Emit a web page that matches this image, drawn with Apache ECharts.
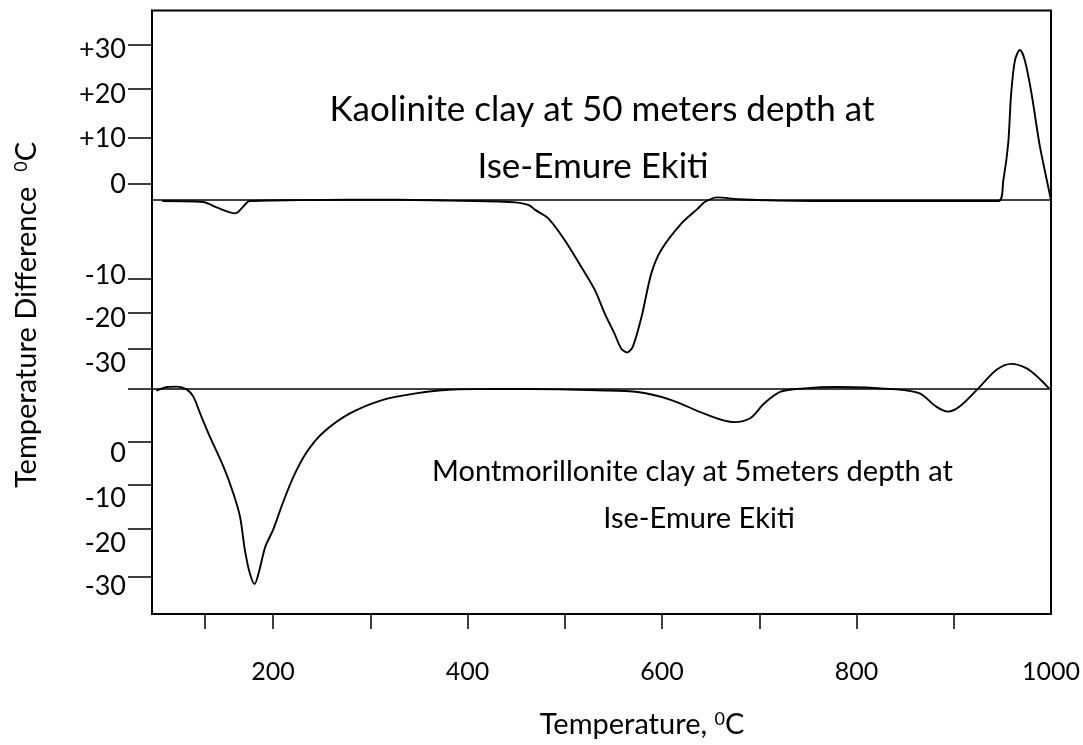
<!DOCTYPE html>
<html>
<head>
<meta charset="utf-8">
<script src="https://cdn.jsdelivr.net/npm/echarts@6/dist/echarts.min.js"></script>
<style>
  html, body { margin: 0; padding: 0; background: #fff; }
  #main { width: 1083px; height: 745px; }
</style>
</head>
<body>
<div id="main"></div>
<script>
// Kaolinite (50 m) trace: temperature (°C) and deflection from its own baseline
const kaolTemp = [86, 128, 142, 161, 169, 176, 227, 330, 381, 432, 449, 463, 470, 483, 500, 517, 531, 541, 551, 558, 564, 570, 579, 589, 599, 620, 637, 644, 657, 678, 719, 790, 893, 946, 951, 956, 959, 963, 968, 973, 980, 988, 995, 1000];
const kaolDiff = [-0.2, -0.4, -1.6, -2.9, -1.5, -0.2, 0, 0.1, -0.1, -0.3, -0.5, -1.1, -2.2, -4.0, -8.8, -14.7, -19.8, -24.9, -29.3, -32.6, -33.5, -32.2, -25.6, -16.1, -11.0, -5.1, -1.8, -0.4, 0.6, 0.2, -0.1, -0.2, -0.2, -0.2, 4.4, 12.5, 23.4, 30.8, 33.0, 30.8, 23.4, 12.5, 5.1, 0];

// Montmorillonite (5 m) trace
const montTemp = [80, 91, 101, 111, 118, 125, 135, 149, 159, 166, 171, 176, 181, 186, 192, 200, 210, 221, 234, 251, 279, 313, 347, 381, 432, 493, 534, 575, 609, 644, 674, 691, 705, 722, 746, 780, 841, 865, 882, 894, 906, 927, 944, 959, 975, 988, 998];
const montDiff = [-0.5, 0.3, 0.4, -0.2, -1.8, -5.5, -10.6, -17.2, -23.0, -28.2, -35.5, -40.6, -43.0, -39.9, -34.8, -31.1, -25.2, -19.4, -14.2, -9.8, -5.5, -2.5, -1.1, -0.3, -0.1, -0.2, -0.4, -0.8, -2.5, -5.6, -7.4, -6.5, -3.3, -0.7, 0, 0.3, -0.2, -1.1, -4.0, -5.1, -4.0, 0.4, 4.1, 5.4, 4.4, 2.2, 0];

// vertical offset of the upper trace above the lower one
const kaolBase = 41.4;
const montBase = 0;

// axis ranges and ticks
const xMin = 75.5, xMax = 1000;
const xTicks = [130, 200, 300, 400, 500, 600, 700, 800, 900];
const xLabels = [200, 400, 600, 800, 1000];
const yMin = -49.6, yMax = 83.1;
const yTicks = [75.5, 65.8, 55.2, 45.1, 24.2, 16.6, 8.7, 0, -11.7, -21.2, -30.9, -41.4];
const yLabelPos = [74.6, 64.7, 55.1, 44.9, 24.9, 15.5, 5.6, -14.2, -24.1, -34.0, -43.6];
const yLabelText = ['+30', '+20', '+10', '0', '-10', '-20', '-30', '0', '-10', '-20', '-30'];

const FONT = 'Lato';

function yLabel(v) {
  let best = 0;
  for (let i = 1; i < yLabelPos.length; i++) {
    if (Math.abs(yLabelPos[i] - v) < Math.abs(yLabelPos[best] - v)) best = i;
  }
  return yLabelText[best];
}

let chart = echarts.init(document.getElementById('main'));

let option = {
  backgroundColor: '#fff',
  animation: false,
  grid: {
    left: 152, right: 28, top: 10.5, bottom: 131,
    show: true, borderColor: '#000', borderWidth: 2
  },
  xAxis: {
    type: 'value', min: xMin, max: xMax,
    splitLine: { show: false },
    axisLine: { show: true, onZero: false, lineStyle: { color: '#000', width: 2 } },
    axisTick: { show: true, length: 15, customValues: xTicks, lineStyle: { color: '#000', width: 1.5 } },
    axisLabel: {
      customValues: xLabels, margin: 45, fontSize: 25, fontFamily: FONT, color: '#000',
      formatter: v => String(v)
    }
  },
  yAxis: {
    type: 'value', min: yMin, max: yMax,
    splitLine: { show: false },
    axisLine: { show: true, onZero: false, lineStyle: { color: '#000', width: 2 } },
    axisTick: { show: true, length: 24, customValues: yTicks, lineStyle: { color: '#000', width: 1.5 } },
    axisLabel: {
      customValues: yLabelPos, margin: 26, fontSize: 27, fontFamily: FONT, color: '#000',
      formatter: yLabel
    }
  },
  series: [
    {
      name: 'Kaolinite',
      type: 'line',
      smooth: 0.3,
      showSymbol: false,
      lineStyle: { color: '#000', width: 1.9 },
      data: kaolTemp.map((t, i) => [t, kaolBase + kaolDiff[i]]),
      markLine: {
        silent: true, symbol: 'none', label: { show: false },
        lineStyle: { color: '#000', type: 'solid', width: 1.6 },
        data: [{ yAxis: kaolBase }, { yAxis: montBase }]
      }
    },
    {
      name: 'Montmorillonite',
      type: 'line',
      smooth: 0.3,
      showSymbol: false,
      lineStyle: { color: '#000', width: 1.9 },
      data: montTemp.map((t, i) => [t, montBase + montDiff[i]])
    }
  ],
  graphic: [
    { type: 'text', x: 602, y: 110, style: { text: 'Kaolinite clay at 50 meters depth at', fontSize: 35, fontFamily: FONT, fill: '#000', align: 'center', verticalAlign: 'middle' } },
    { type: 'text', x: 593, y: 167, style: { text: 'Ise-Emure Ekiti', fontSize: 35, fontFamily: FONT, fill: '#000', align: 'center', verticalAlign: 'middle' } },
    { type: 'text', x: 432, y: 472, style: { text: 'Montmorillonite clay at 5meters depth at', fontSize: 29, fontFamily: FONT, fill: '#000', align: 'left', verticalAlign: 'middle' } },
    { type: 'text', x: 699, y: 519, style: { text: 'Ise-Emure Ekiti', fontSize: 29, fontFamily: FONT, fill: '#000', align: 'center', verticalAlign: 'middle' } },
    {
      type: 'text', x: 642, y: 725,
      style: {
        text: 'Temperature, {sup|0}C', fontSize: 29, fontFamily: FONT, fill: '#000',
        align: 'center', verticalAlign: 'middle',
        rich: { sup: { fontSize: 18, fontFamily: FONT, verticalAlign: 'top' } }
      }
    },
    {
      type: 'text', x: 27, y: 315, rotation: Math.PI / 2,
      style: {
        text: 'Temperature Difference  {sup|0}C', fontSize: 29, fontFamily: FONT, fill: '#000',
        align: 'center', verticalAlign: 'middle',
        rich: { sup: { fontSize: 18, fontFamily: FONT, verticalAlign: 'top' } }
      }
    }
  ]
};

chart.setOption(option);
</script>
</body>
</html>
